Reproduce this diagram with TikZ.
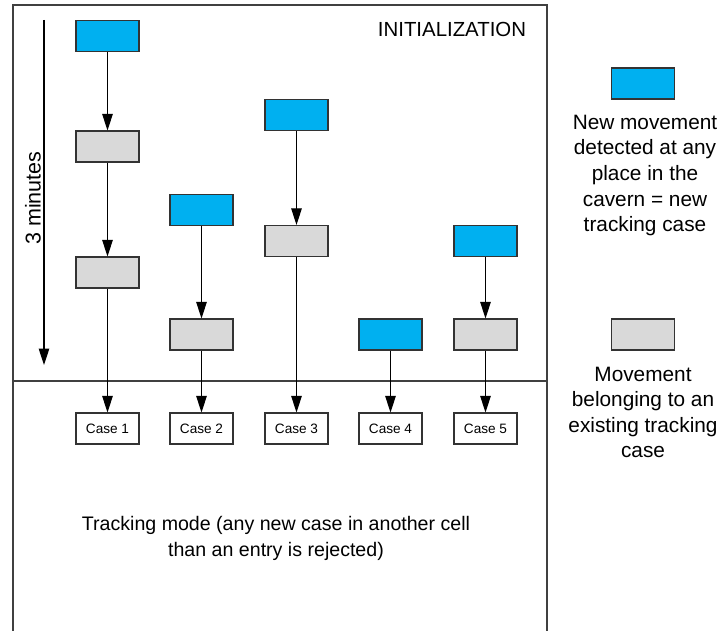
\documentclass[tikz,border=0pt]{standalone}
\usepackage{fontspec}
\setmainfont{Liberation Sans}
\usetikzlibrary{arrows.meta}

\definecolor{newblue}{HTML}{00B0F0}
\definecolor{oldgrey}{HTML}{D9D9D9}
\definecolor{framegrey}{HTML}{404040}
\definecolor{edgegrey}{HTML}{333333}

\tikzset{
  event/.style={draw=edgegrey, line width=1.1pt, minimum width=63pt, minimum height=31pt, inner sep=0pt},
  newmove/.style={event, fill=newblue},
  oldmove/.style={event, fill=oldgrey},
  casebox/.style={draw=edgegrey, line width=1.1pt, fill=white, minimum width=63pt, minimum height=31pt,
                  inner sep=0pt, font=\fontsize{13.6}{16}\selectfont},
  flow/.style={draw=black, line width=1.1pt, -{Triangle[length=16.5pt,width=10.5pt]}},
  frame/.style={draw=framegrey, line width=1.5pt},
  bigtext/.style={inner sep=0pt, align=center, text=black}
}

\begin{document}
\begin{tikzpicture}[x=1pt, y=-1pt]
  \useasboundingbox[fill=white] (0,0) rectangle (726,631);

  % outer frame, open at the bottom, and the phase divider
  \draw[frame] (13,631) -- (13,5) -- (547,5) -- (547,631);
  \draw[frame] (13,381) -- (547,381);

  % phase labels
  \node[bigtext, anchor=base, font=\fontsize{20.4}{24}\selectfont] (init) at (452,37) {INITIALIZATION};
  \node[bigtext, font=\fontsize{19.6}{26.5}\selectfont] (track) at (276,538.5)
    {Tracking mode (any new case in another cell\\than an entry is rejected)};

  % time axis
  \coordinate (t0) at (44,20);
  \coordinate (t1) at (44,365);
  \draw[flow] (t0) -- (t1);
  \node[bigtext, rotate=90, font=\fontsize{21.5}{24}\selectfont] (tlabel) at (33,198) {3 minutes};

  % column 1
  \node[newmove] (a1) at (107.5,36) {};
  \node[oldmove] (a2) at (107.5,146.5) {};
  \node[oldmove] (a3) at (107.5,272.5) {};
  % column 2
  \node[newmove] (b1) at (201.5,210) {};
  \node[oldmove] (b2) at (201.5,334.5) {};
  % column 3
  \node[newmove] (c1) at (296.5,115) {};
  \node[oldmove] (c2) at (296.5,241) {};
  % column 4
  \node[newmove] (d1) at (390.5,334.5) {};
  % column 5
  \node[newmove] (e1) at (485.5,241) {};
  \node[oldmove] (e2) at (485.5,334.5) {};

  % resulting tracking cases
  \node[casebox] (k1) at (107.5,428.5) {Case 1};
  \node[casebox] (k2) at (201.5,428.5) {Case 2};
  \node[casebox] (k3) at (296.5,428.5) {Case 3};
  \node[casebox] (k4) at (390.5,428.5) {Case 4};
  \node[casebox] (k5) at (485.5,428.5) {Case 5};

  \draw[flow] (a1) -- (a2);
  \draw[flow] (a2) -- (a3);
  \draw[flow] (a3) -- (k1);
  \draw[flow] (b1) -- (b2);
  \draw[flow] (b2) -- (k2);
  \draw[flow] (c1) -- (c2);
  \draw[flow] (c2) -- (k3);
  \draw[flow] (d1) -- (k4);
  \draw[flow] (e1) -- (e2);
  \draw[flow] (e2) -- (k5);

  % legend
  \node[newmove] (lg1) at (643,83.5) {};
  \node[bigtext, font=\fontsize{20.8}{25.6}\selectfont] (lt1) at (645,175.5)
    {New movement\\detected at any\\place in the\\cavern = new\\tracking case};
  \node[oldmove] (lg2) at (643,334.5) {};
  \node[bigtext, font=\fontsize{20.8}{25.3}\selectfont] (lt2) at (643,412.5)
    {Movement\\belonging to an\\existing tracking\\case};
\end{tikzpicture}
\end{document}
